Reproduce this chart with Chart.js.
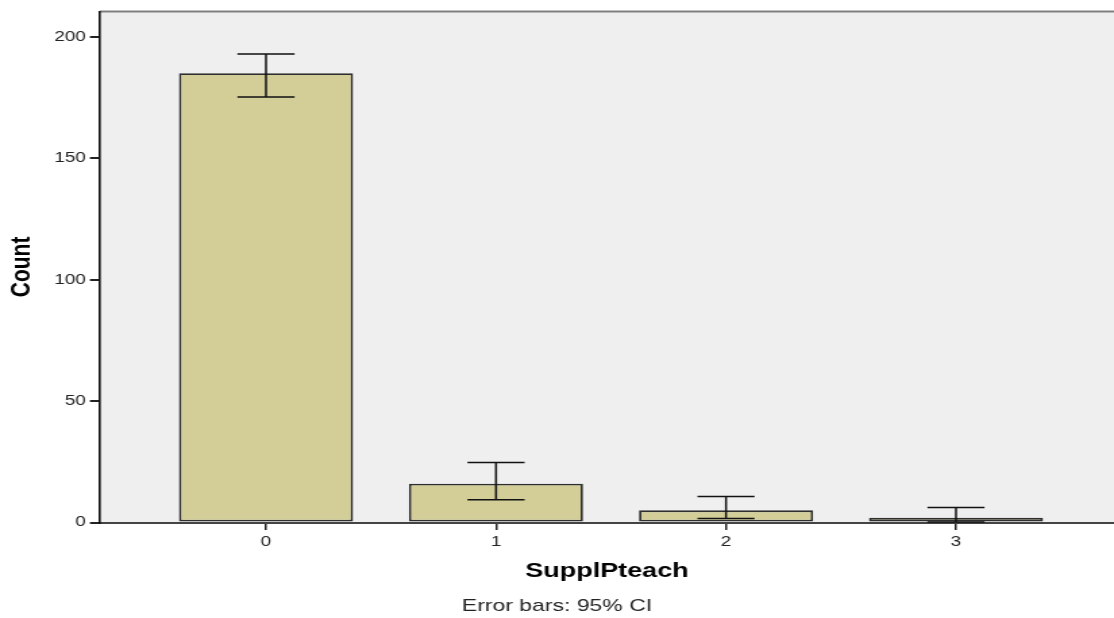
<!DOCTYPE html>
<html>
<head>
<meta charset="utf-8">
<title>SupplPteach</title>
<script src="https://cdn.jsdelivr.net/npm/chart.js@4/dist/chart.umd.min.js"></script>
<style>
    html, body { margin: 0; padding: 0; background: #ffffff; overflow: hidden; }
    /* the original picture is stretched sideways, so the canvas is too */
    #myChart { display: block; transform: scaleX(1.3503); transform-origin: 0 0; }
</style>
</head>
<body>
<canvas id="myChart" width="825" height="618"></canvas>
<script>
// values
const categories = [0, 1, 2, 3];
const counts = [185, 16, 5, 2];
const ciLower = [175.2, 9.4, 1.6, 0.2];
const ciUpper = [193, 24.7, 10.7, 6.2];
const yTicks = [0, 50, 100, 150, 200];

const FONT = "'Liberation Sans', Arial, sans-serif";

document.addEventListener('DOMContentLoaded', function () {
    const ctx = document.getElementById('myChart').getContext('2d');

    // grey plot background and the thin frame line on top
    const plotBackground = {
        id: 'plotBackground',
        beforeDraw(chart) {
            const a = chart.chartArea;
            const c = chart.ctx;
            c.save();
            c.fillStyle = '#efefef';
            c.fillRect(a.left, a.top, a.right - a.left, a.bottom - a.top);
            c.strokeStyle = '#808080';
            c.lineWidth = 2;
            c.beginPath();
            c.moveTo(a.left, a.top);
            c.lineTo(a.right, a.top);
            c.stroke();
            c.restore();
        }
    };

    // 95% CI whiskers drawn on top of each bar
    const errorBars = {
        id: 'errorBars',
        afterDatasetsDraw(chart) {
            const meta = chart.getDatasetMeta(0);
            const y = chart.scales.y;
            const c = chart.ctx;
            c.save();
            c.strokeStyle = '#111111';
            c.lineWidth = 1.5;
            meta.data.forEach(function (bar, i) {
                const hi = y.getPixelForValue(ciUpper[i]);
                const lo = y.getPixelForValue(ciLower[i]);
                const half = bar.width * 0.164;
                c.beginPath();
                c.moveTo(bar.x, hi);
                c.lineTo(bar.x, lo);
                c.moveTo(bar.x - half, hi);
                c.lineTo(bar.x + half, hi);
                c.moveTo(bar.x - half, lo);
                c.lineTo(bar.x + half, lo);
                c.stroke();
            });
            c.restore();
        }
    };

    function renderChart() {
        const points = categories.map((cat, i) => ({ x: cat, y: counts[i] }));

        new Chart(ctx, {
            type: 'bar',
            data: {
                datasets: [{
                    label: 'Count',
                    data: points,
                    backgroundColor: '#d3ce98',
                    borderColor: '#2e2e2e',
                    borderWidth: 1.8,
                    borderSkipped: false,
                    categoryPercentage: 1,
                    barPercentage: 0.757
                }]
            },
            options: {
                responsive: false,
                animation: false,
                layout: { padding: { top: 11, right: 0, bottom: 0, left: 0 } },
                plugins: {
                    legend: { display: false },
                    tooltip: { enabled: false },
                    title: {
                        display: true,
                        position: 'bottom',
                        text: 'Error bars: 95% CI',
                        color: '#222222',
                        font: { family: FONT, size: 17, weight: 'normal' },
                        padding: { top: 0, bottom: 1 }
                    }
                },
                scales: {
                    x: {
                        type: 'linear',
                        min: -0.7221,
                        max: 3.687,
                        offset: false,
                        afterBuildTicks: function (scale) {
                            scale.ticks = categories.map(v => ({ value: v }));
                        },
                        afterFit: function (scale) {
                            scale.height = 74.1;
                        },
                        grid: {
                            offset: false,
                            drawOnChartArea: false,
                            drawTicks: true,
                            tickLength: 7.5,
                            color: '#222222',
                            lineWidth: 1.5
                        },
                        border: { display: true, color: '#444444', width: 2 },
                        ticks: {
                            color: '#222222',
                            padding: 4,
                            font: { family: FONT, size: 14 },
                            callback: v => String(v)
                        },
                        title: {
                            display: true,
                            text: 'SupplPteach',
                            color: '#000000',
                            font: { family: FONT, size: 20, weight: 'bold' },
                            padding: { top: 0, bottom: 13.6 }
                        }
                    },
                    y: {
                        min: 0,
                        max: 210.5,
                        afterBuildTicks: function (scale) {
                            scale.ticks = yTicks.map(v => ({ value: v }));
                        },
                        afterFit: function (scale) {
                            scale.width = 74;
                        },
                        grid: {
                            drawOnChartArea: false,
                            drawTicks: true,
                            tickLength: 7.4,
                            color: '#222222',
                            lineWidth: 2
                        },
                        border: { display: true, color: '#111111', width: 1.6 },
                        ticks: {
                            color: '#222222',
                            padding: 3,
                            font: { family: FONT, size: 14 }
                        },
                        title: {
                            display: true,
                            text: 'Count',
                            color: '#000000',
                            font: { family: "'Liberation Sans Narrow', " + FONT, size: 21, weight: 'bold' },
                            padding: { top: 3.7, bottom: 0 }
                        }
                    }
                }
            },
            plugins: [plotBackground, errorBars]
        });
    }

    renderChart();
});
</script>
</body>
</html>
